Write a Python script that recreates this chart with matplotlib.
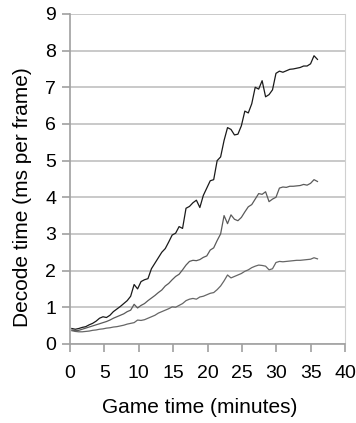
import matplotlib
matplotlib.use("Agg")
import matplotlib.pyplot as plt
import numpy as np

# Game time samples (minutes) shared by the three traces
game_time = np.linspace(0.25, 36.0, 72)

decode_high = [
    0.42, 0.40, 0.42, 0.45, 0.47, 0.52, 0.56, 0.62, 0.70, 0.74,
    0.72, 0.78, 0.88, 0.95, 1.02, 1.10, 1.18, 1.30, 1.62, 1.50,
    1.70, 1.75, 1.78, 2.05, 2.20, 2.35, 2.50, 2.60, 2.78, 2.97,
    3.02, 3.20, 3.15, 3.70, 3.75, 3.85, 3.92, 3.72, 4.05, 4.25,
    4.45, 4.48, 5.00, 5.10, 5.55, 5.90, 5.85, 5.70, 5.72, 5.95,
    6.35, 6.30, 6.55, 7.00, 6.95, 7.18, 6.74, 6.80, 6.93, 7.38,
    7.44, 7.41, 7.45, 7.49, 7.50, 7.52, 7.54, 7.58, 7.58, 7.64,
    7.86, 7.76,
]

decode_mid = [
    0.38, 0.36, 0.37, 0.40, 0.43, 0.46, 0.49, 0.52, 0.55, 0.58,
    0.61, 0.65, 0.70, 0.74, 0.78, 0.82, 0.88, 0.92, 1.08, 0.98,
    1.05, 1.10, 1.18, 1.25, 1.32, 1.40, 1.47, 1.58, 1.65, 1.75,
    1.84, 1.90, 2.02, 2.15, 2.25, 2.28, 2.27, 2.30, 2.36, 2.40,
    2.56, 2.62, 2.82, 3.00, 3.50, 3.28, 3.52, 3.40, 3.36, 3.45,
    3.60, 3.74, 3.80, 3.95, 4.10, 4.08, 4.15, 3.88, 3.95, 4.00,
    4.25, 4.28, 4.27, 4.30, 4.30, 4.31, 4.32, 4.35, 4.33, 4.38,
    4.48, 4.43,
]

decode_low = [
    0.36, 0.34, 0.33, 0.33, 0.34, 0.35, 0.37, 0.38, 0.40, 0.41,
    0.43, 0.44, 0.46, 0.47, 0.49, 0.51, 0.54, 0.56, 0.58, 0.65,
    0.64, 0.66, 0.70, 0.74, 0.78, 0.84, 0.88, 0.92, 0.96, 1.01,
    1.00, 1.05, 1.10, 1.18, 1.22, 1.24, 1.22, 1.28, 1.30, 1.34,
    1.38, 1.40, 1.48, 1.58, 1.72, 1.88, 1.80, 1.84, 1.88, 1.92,
    1.98, 2.02, 2.08, 2.12, 2.15, 2.14, 2.12, 2.02, 2.05, 2.22,
    2.25, 2.24, 2.25, 2.26, 2.27, 2.28, 2.28, 2.29, 2.30, 2.31,
    2.35, 2.32,
]

x_ticks = [0, 5, 10, 15, 20, 25, 30, 35, 40]
y_ticks = list(range(10))

plt.rcParams['font.family'] = ['Liberation Sans', 'DejaVu Sans']

fig = plt.figure(figsize=(3.56, 4.23), dpi=100)
ax = fig.add_axes([0.197, 0.187, 0.772, 0.780])

for y, color in [(decode_low, '#666666'), (decode_mid, '#5a5a5a'),
                 (decode_high, '#1a1a1a')]:
    ax.plot(game_time, y, '-', color=color, lw=0.9)

ax.set_xlim(0, 40)
ax.set_ylim(0, 9)
ax.set_xticks(x_ticks)
ax.set_yticks(y_ticks)
ax.grid(True, axis='y', color='#c0c0c0', lw=1.2)
ax.set_axisbelow(True)

for side in ['left', 'bottom']:
    ax.spines[side].set_color('#a0a0a0')
    ax.spines[side].set_linewidth(1.2)
ax.spines['right'].set_color('#d0d0d0')
ax.spines['top'].set_visible(False)

ax.tick_params(axis='both', direction='out', color='#a0a0a0', width=1.2,
               length=6, labelsize=14, pad=4)
ax.tick_params(axis='x', pad=9)

ax.set_xlabel('Game time (minutes)', fontsize=15)
ax.set_ylabel('Decode time (ms per frame)', fontsize=15)
ax.xaxis.set_label_coords(0.473, -0.165)
ax.yaxis.set_label_coords(-0.138, 0.445)

fig.savefig('out.png', dpi=100)
